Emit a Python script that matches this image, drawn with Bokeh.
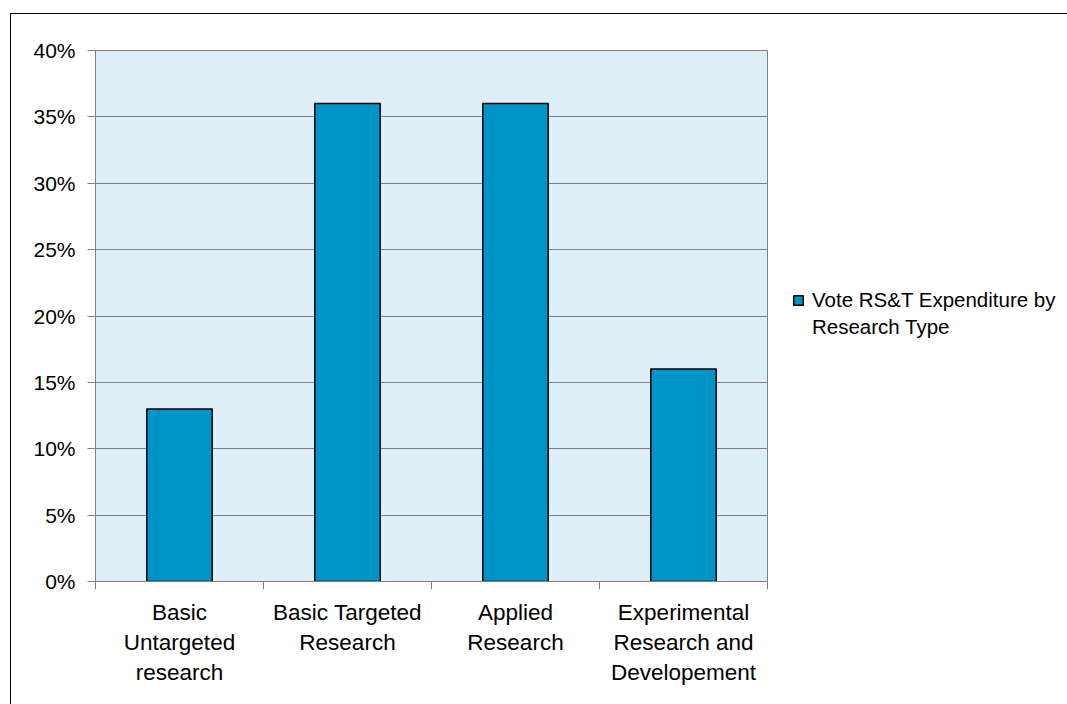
from bokeh.plotting import figure
from bokeh.models import Range1d, FixedTicker, NumeralTickFormatter, Legend, LegendItem, ColumnDataSource
from bokeh.embed import file_html
from bokeh.resources import INLINE

categories = ["Basic\nUntargeted\nresearch", "Basic Targeted\nResearch", "Applied\nResearch",
              "Experimental\nResearch and\nDevelopement"]
values = [0.13, 0.36, 0.36, 0.16]
y_ticks = [0.0, 0.05, 0.10, 0.15, 0.20, 0.25, 0.30, 0.35, 0.40]
series_name = "Vote RS&T Expenditure by\nResearch Type"

FONT = "Liberation Sans"
GRID = "#808080"

centers = [i + 0.5 for i in range(len(categories))]
bounds = [i for i in range(len(categories) + 1)]
src = ColumnDataSource(dict(x=centers, top=values))

p = figure(frame_width=672, frame_height=531, output_backend="svg", toolbar_location=None,
           x_range=Range1d(0, len(categories)), y_range=Range1d(0, 0.40),
           min_border_left=84, min_border_right=301, min_border_top=36, min_border_bottom=124)
p.margin = (13, 0, 0, 10)
p.styles = {"border-left": "1px solid black", "border-top": "1px solid black"}

p.background_fill_color = "#DEEEF6"
p.border_fill_color = "white"
p.outline_line_color = GRID
p.outline_line_width = 1

r = p.vbar(x="x", top="top", width=0.39, source=src, fill_color="#0093C6",
           line_color="black", line_width=1.5)

# y axis
p.yaxis.ticker = FixedTicker(ticks=y_ticks)
p.yaxis.formatter = NumeralTickFormatter(format="0%")
p.yaxis.axis_line_color = GRID
p.yaxis.major_tick_line_color = GRID
p.yaxis.major_tick_in = 0
p.yaxis.major_tick_out = 8
p.yaxis.minor_tick_line_color = None
p.yaxis.major_label_standoff = 12
p.yaxis.major_label_text_font = FONT
p.yaxis.major_label_text_font_size = "21px"
p.yaxis.major_label_text_color = "black"

# x axis
p.xaxis.ticker = FixedTicker(ticks=centers, minor_ticks=bounds)
p.xaxis.major_label_overrides = {c: lab for c, lab in zip(centers, categories)}
p.xaxis.axis_line_color = GRID
p.xaxis.major_tick_line_color = None
p.xaxis.minor_tick_line_color = GRID
p.xaxis.minor_tick_in = 0
p.xaxis.minor_tick_out = 8
p.xaxis.major_label_standoff = 10
p.xaxis.major_label_text_font = FONT
p.xaxis.major_label_text_font_size = "22.5px"
p.xaxis.major_label_text_color = "black"
p.xaxis.major_label_text_align = "center"

p.xgrid.grid_line_color = None
p.ygrid.grid_line_color = GRID
p.ygrid.grid_line_width = 1

name_lines = series_name.split("\n")
items = [LegendItem(label=name_lines[0], renderers=[r])] + \
        [LegendItem(label=t, renderers=[]) for t in name_lines[1:]]
legend = Legend(items=items,
                location=(25, 242), border_line_color=None, background_fill_alpha=0,
                glyph_width=12, glyph_height=12, label_standoff=8, padding=0, margin=0,
                spacing=3, label_height=22,
                label_text_font=FONT, label_text_font_size="20.5px", label_text_color="black")
p.add_layout(legend, "right")

open("out.html", "w").write(file_html(p, INLINE))
